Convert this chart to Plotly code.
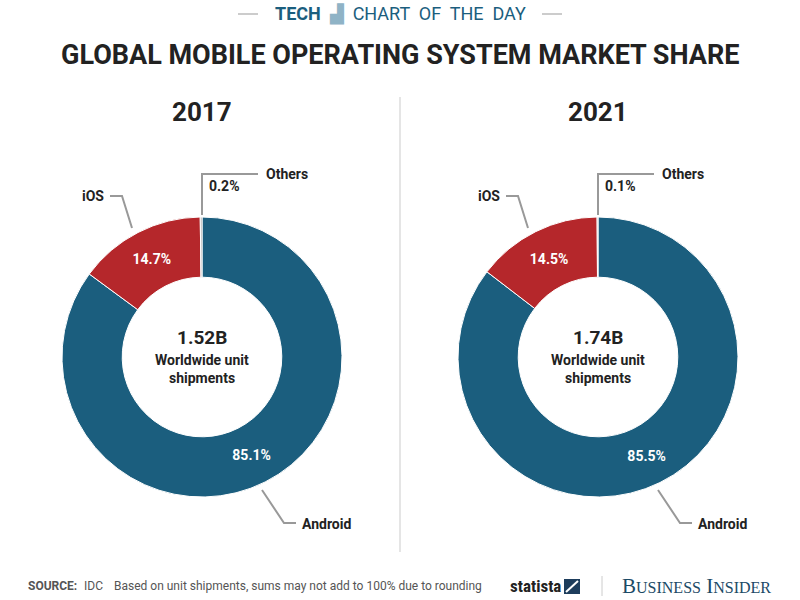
import plotly.graph_objects as go

labels = ["Android", "iOS", "Others"]
share_2017 = [85.1, 14.7, 0.2]
share_2021 = [85.5, 14.5, 0.1]
years = ["2017", "2021"]
shipments = ["1.52B", "1.74B"]
colors = ["#1b5e7e", "#b5272b", "#9a9a9a"]

W, H = 800, 600
def px(x, y):
    return x / W, 1 - y / H

fig = go.Figure()
R = 140
for i, (vals, cx) in enumerate([(share_2017, 202), (share_2021, 598)]):
    x0, _ = px(cx - R, 0)
    x1, _ = px(cx + R, 0)
    fig.add_trace(go.Pie(
        labels=labels, values=vals, sort=False, direction="clockwise", rotation=0,
        hole=0.57, marker=dict(colors=colors, line=dict(color="white", width=1)),
        text=[f"<b>{v}%</b>" for v in vals[:2]] + [""], textinfo="text",
        textposition="inside", insidetextorientation="horizontal",
        textfont=dict(family="Roboto", size=14, color="white"),
        domain=dict(x=[x0, x1], y=[px(0, 357 + R)[1], px(0, 357 - R)[1]]),
        showlegend=False, hoverinfo="label+value",
    ))

ann = []
shapes = []
def text(x, y, s, size=14, color="#222", bold=True, xanchor="center", family="Roboto"):
    ax, ay = px(x, y)
    ann.append(dict(x=ax, y=ay, xref="paper", yref="paper", text=f"<b>{s}</b>" if bold else s,
                    showarrow=False, xanchor=xanchor, yanchor="middle",
                    font=dict(family=family, size=size, color=color)))
def line(pts, color="#999", width=2):
    path = "M " + " L ".join(f"{px(x, y)[0]},{px(x, y)[1]}" for x, y in pts)
    shapes.append(dict(type="path", path=path, xref="paper", yref="paper",
                       line=dict(color=color, width=width)))

text(400, 14, "<span style='color:#1b5e7e'><b>TECH</b></span>  <span style='color:#8fb3c6'>▟</span>  CHART  OF  THE  DAY",
     size=18, color="#1b5e7e", bold=False)
line([(238, 14), (258, 14)], color="#bbb", width=1.5)
line([(542, 14), (562, 14)], color="#bbb", width=1.5)
text(400, 55, "GLOBAL MOBILE OPERATING SYSTEM MARKET SHARE", size=27, color="#222")
line([(400, 97), (400, 552)], color="#ddd", width=1.5)

for i, cx in enumerate([202, 598]):
    text(cx, 112, years[i], size=26)
    text(cx, 337, shipments[i], size=19)
    text(cx, 360, "Worldwide unit", size=14)
    text(cx, 378, "shipments", size=14)
    line([(cx - 70, 228), (cx - 80, 196), (cx - 92, 196)])
    text(cx - 96, 196, "iOS", xanchor="right")
    line([(cx, 215), (cx, 174), (cx + 56, 174)])
    text(cx + 62, 174, "Others", xanchor="left")
    text(cx + 5, 186, "0.2%" if i == 0 else "0.1%", xanchor="left")
    line([(cx + 60, 490), (cx + 82, 523), (cx + 94, 523)])
    text(cx + 98, 524, "Android", xanchor="left")

text(26, 586, "SOURCE:", size=12, color="#555", xanchor="left")
text(82, 586, "IDC", size=12, color="#555", bold=False, xanchor="left")
text(112, 586, "Based on unit shipments, sums may not add to 100% due to rounding",
     size=12, color="#555", bold=False, xanchor="left")
text(535, 586, "statista", size=17, color="#222", xanchor="center", family="Roboto Condensed, Roboto")
shapes.append(dict(type="rect", xref="paper", yref="paper",
                   x0=px(564, 0)[0], x1=px(580, 0)[0], y0=px(0, 594)[1], y1=px(0, 579)[1],
                   fillcolor="#1d3d5c", line=dict(width=0)))
line([(566, 592), (578, 581)], color="white", width=2)
line([(602, 576), (602, 596)], color="#ccc", width=1)
text(696, 586, "B<span style='font-size:16px'>USINESS</span> I<span style='font-size:16px'>NSIDER</span>",
     size=21, color="#1b4a66", bold=False, family="Liberation Serif")

fig.update_layout(width=W, height=H, margin=dict(l=0, r=0, t=0, b=0),
                  paper_bgcolor="white", plot_bgcolor="white",
                  annotations=ann, shapes=shapes)
fig.write_html("out.html", config={"displayModeBar": False},
               post_script="document.body.style.margin='0';document.body.style.overflow='hidden';")
